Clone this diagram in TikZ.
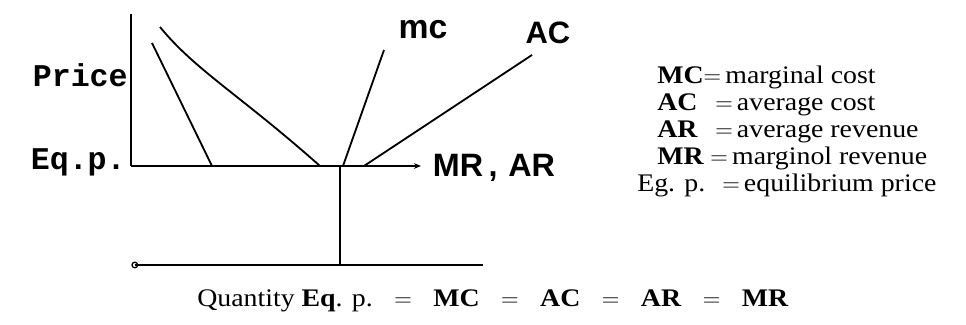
\documentclass[tikz,border=0pt]{standalone}
\usepackage{fontspec}
\setmainfont{Liberation Serif}[FakeStretch=1.1]
\newfontfamily\typefont{Liberation Mono}
\newfontfamily\handfont{Liberation Sans}
\usepackage{tikz}
\usetikzlibrary{arrows.meta,positioning,calc}

\tikzset{
  curve/.style={line width=1.3pt},
  axis/.style={line width=1.1pt},
  axislabel/.style={font=\fontsize{22.5}{26}\typefont\bfseries, anchor=base east, inner sep=0pt},
  handlabel/.style={font=\fontsize{22}{26}\handfont\bfseries, inner sep=0pt},
  legendrow/.style={font=\fontsize{18}{22}\selectfont, anchor=base west, inner sep=0pt},
}
\newcommand{\abbr}[2][1.45cm]{\makebox[#1][l]{#2}$=$\,}
\newcommand{\eqsep}{\hspace{0.85em}$=$\hspace{0.85em}}

\begin{document}
\begin{tikzpicture}
\useasboundingbox (0,0) rectangle (24.15,8.125);
% Axes
\coordinate (O) at (3.275,3.975);
\coordinate (ytop) at (3.275,7.775);
\coordinate (pend) at (10.525,3.975);
\coordinate (eq) at (8.5,3.975);
\coordinate (eqlow) at (8.5,1.5);
\coordinate (q0) at (3.37,1.5);
\coordinate (q1) at (12.075,1.5);
\draw[axis] (ytop) -- (O);
\draw[axis,-{Stealth[length=5pt,width=4pt]}] (O) -- (pend);
\draw[axis] (eq) -- (eqlow);
\draw[axis] (q0) -- (q1);
\draw[line width=0.9pt] (q0) circle (0.07);
\node[axislabel] (price) at (3.2,5.95) {Price};
\node[axislabel] (eqp) at (3.15,3.875) {Eq.p.};

% Curves
\coordinate (mcdown0) at (3.8,7.05);
\coordinate (mcdown1) at (5.3,3.975);
\coordinate (acdown0) at (4.0,7.45);
\coordinate (acdown1) at (8.0,3.975);
\coordinate (mc0) at (8.575,3.975);
\coordinate (mc1) at (9.6,6.875);
\coordinate (ac0) at (9.1,3.975);
\coordinate (ac1) at (13.3,6.75);
\draw[curve] (mcdown0) -- (mcdown1);
\draw[curve] (acdown0) .. controls (4.875,6.375) and (6.0,5.75) .. (acdown1);
\draw[curve] (mc0) -- (mc1);
\draw[curve] (ac0) -- (ac1);
\node[handlabel,font=\fontsize{24}{28}\handfont\bfseries] (mclab) at (10.575,7.38) {mc};
\node[handlabel] (aclab) at (13.7,7.3) {AC};
\node[handlabel,font=\fontsize{23}{27}\handfont\bfseries] (mrlab) at (12.35,3.92) {MR\,,\,\,AR};

% Legend
\node[legendrow] (lmc) at (16.425,6.025) {\textbf{MC}$=$\,marginal cost};
\node[legendrow] (lac) at (16.425,5.35) {\abbr{\textbf{AC}}average cost};
\node[legendrow] (lar) at (16.425,4.675) {\abbr{\textbf{AR}}average revenue};
\node[legendrow] (lmr) at (16.425,4.0) {\abbr[1.33cm]{\textbf{MR}}marginol revenue};
\node[legendrow] (lep) at (15.925,3.325) {\abbr[2.125cm]{Eg. p.}equilibrium price};

% Quantity
\node[legendrow] (qty) at (4.925,0.45) {Quantity \textbf{Eq}. p.\eqsep\textbf{MC}\eqsep\textbf{AC}\eqsep\textbf{AR}\eqsep\textbf{MR}};
\end{tikzpicture}
\end{document}
